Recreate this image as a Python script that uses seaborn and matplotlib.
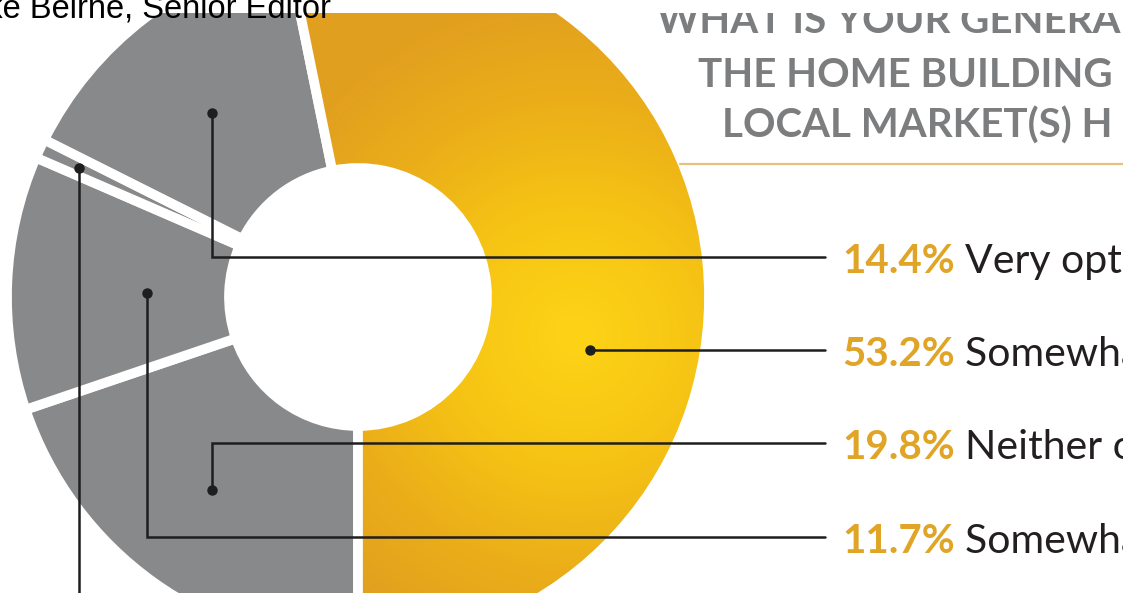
import numpy as np
import matplotlib
matplotlib.use("Agg")
import matplotlib.pyplot as plt
import matplotlib.patches as mpatches
from matplotlib.colors import LinearSegmentedColormap
import seaborn as sns

# ---------------- data ----------------
categories = ["Somewhat optimistic", "Neither optimistic nor pessimistic",
              "Somewhat pessimistic", "Very pessimistic", "Very optimistic"]
shares = [53.2, 19.8, 11.7, 0.9, 14.4]
label_cats = ["Very optimistic", "Somewhat optimistic",
              "Neither optimistic nor pessimistic", "Somewhat pessimistic"]
title_lines = ["WHAT IS YOUR GENERAL", "THE HOME BUILDING", "LOCAL MARKET(S) H"]
byline = "Mike Beirne, Senior Editor"

# ---------------- style ----------------
sns.set_theme(style="white")
plt.rcParams["font.family"] = ["Lato", "DejaVu Sans"]

GOLD_TXT = "#E0A427"
GRAY = "#88898B"
TITLE_GRAY = "#7C7D7F"
INK = "#1E1E1E"

W, H = 1123, 593
fig = plt.figure(figsize=(W / 100, H / 100), dpi=100)
ax = fig.add_axes([0, 0, 1, 1])

center = (358, 297)
R_out, R_in = 351, 129
# with the inverted y axis, counterclockwise in data = clockwise on screen;
# the main slice ends exactly at the bottom of the ring
start = 90 - 3.6 * shares[0]

colors = ["#F2BB14"] + [GRAY] * 4
wedges, _ = ax.pie(shares, colors=colors, startangle=start,
                   counterclock=True, center=center, radius=R_out,
                   wedgeprops=dict(width=R_out - R_in, edgecolor="white", linewidth=7))
for w in wedges:
    w.set_zorder(1)

# radial gold gradient for the main slice
yy, xx = np.mgrid[0:H, 0:W]
d = np.hypot(xx - 575, yy - 335)
t = np.clip(d / 340, 0, 1) ** 1.1
cmap = LinearSegmentedColormap.from_list("gold", ["#FDD317", "#F6C414", "#EBAE19", "#E19F1F"])
im = ax.imshow(t, cmap=cmap, extent=(0, W, H, 0), origin="upper", zorder=1.5,
               interpolation="bilinear")
im.set_clip_path(wedges[0])
w0 = wedges[0]
ax.add_patch(mpatches.Wedge(w0.center, w0.r, w0.theta1, w0.theta2, width=w0.width,
                            fc="none", ec="white", lw=7, zorder=1.6))

ax.set_xlim(0, W)
ax.set_ylim(H, 0)
ax.axis("off")

# ---------------- leader lines ----------------
leaders = [
    [(212, 113), (212, 257), (825, 257)],
    [(590, 350), (825, 350)],
    [(212, 490), (212, 443), (825, 443)],
    [(147, 293), (147, 537), (825, 537)],
    [(79, 168), (79, 620)],
]
for pts in leaders:
    xs, ys = zip(*pts)
    ax.plot(xs, ys, color=INK, lw=1.8, zorder=5, solid_joinstyle="miter", clip_on=False)
    ax.plot([xs[0]], [ys[0]], "o", color=INK, ms=6.5, zorder=6)

# ---------------- labels ----------------
pct_by_cat = dict(zip(categories, shares))
label_y = [257, 350, 443, 537]
fig.canvas.draw()
renderer = fig.canvas.get_renderer()
inv = ax.transData.inverted()
for cat, y in zip(label_cats, label_y):
    t1 = ax.text(842, y + 16, f"{pct_by_cat[cat]:.1f}%", color=GOLD_TXT, fontsize=29,
                 fontweight="bold", ha="left", va="baseline", zorder=7)
    bb = t1.get_window_extent(renderer)
    x_end = inv.transform((bb.x1, bb.y0))[0]
    ax.text(x_end + 10, y + 16, cat, color="#231F20", fontsize=29.5, ha="left",
            va="baseline", zorder=7)

# ---------------- title ----------------
for txt, x, yb in zip(title_lines, [657, 698, 722], [33, 87, 138]):
    ax.text(x, yb, txt, color=TITLE_GRAY, fontsize=29, fontweight="bold",
            ha="left", va="baseline", zorder=7)
ax.plot([680, W + 5], [164, 164], color="#E6C27E", lw=1.6, zorder=7, clip_on=False)

# page header band above the graphic
ax.add_patch(mpatches.Rectangle((0, 0), W, 13, fc="white", ec="none", zorder=8))
ax.text(331, 17, byline, color="black", fontsize=23.5, family=["Liberation Sans", "DejaVu Sans"],
        ha="right", va="baseline", zorder=9)

fig.savefig("out.png", dpi=100)
